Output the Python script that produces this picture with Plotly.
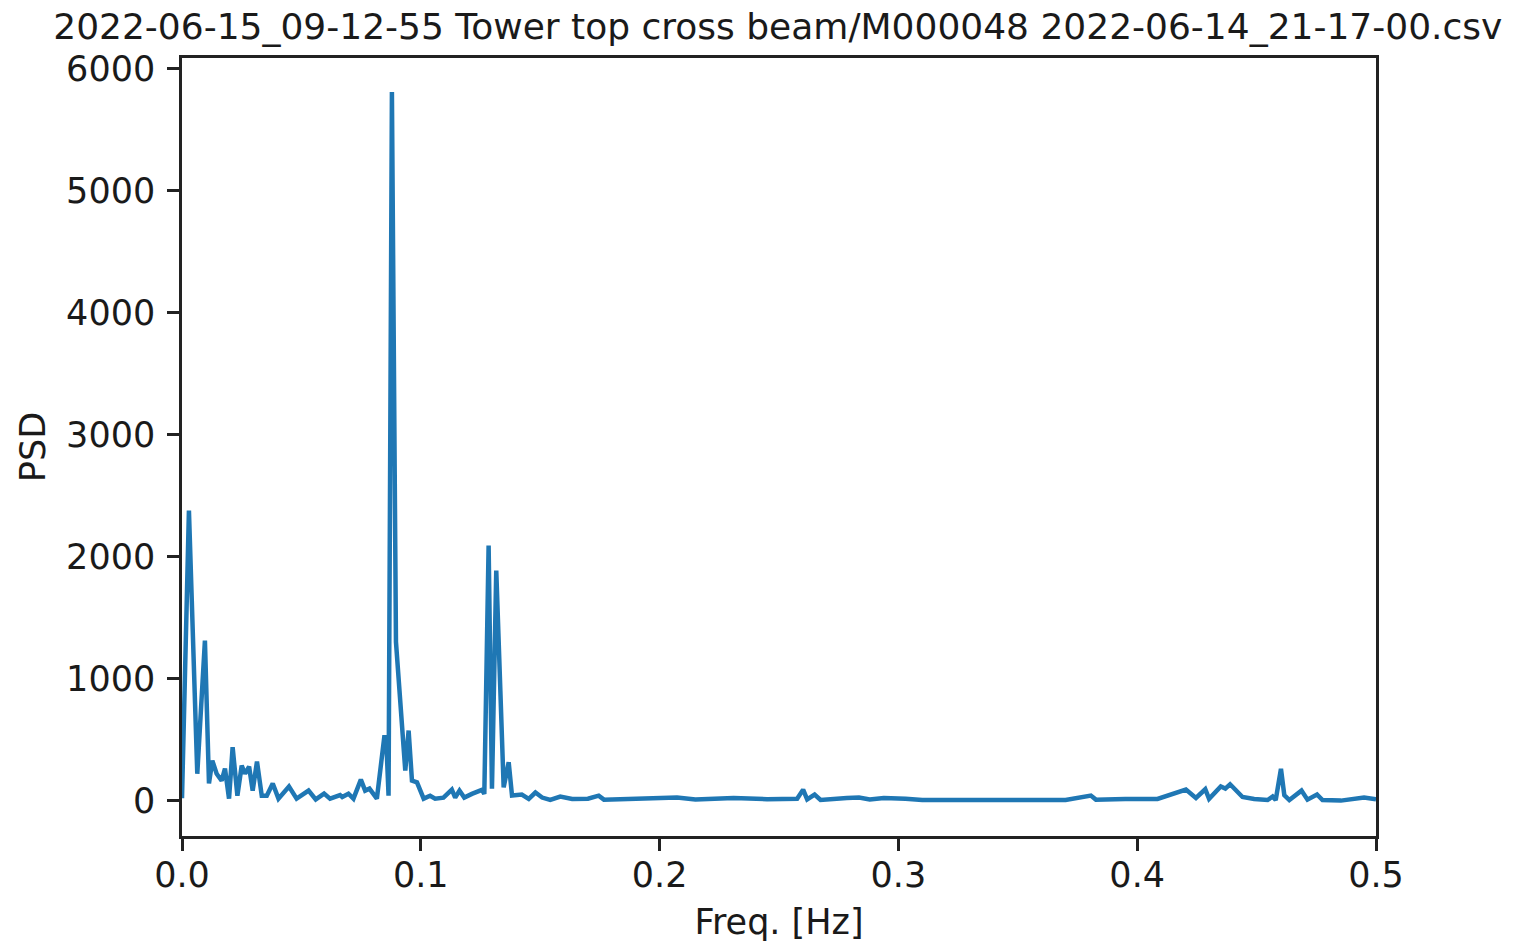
import plotly.graph_objects as go

title_text = "2022-06-15_09-12-55 Tower top cross beam/M000048 2022-06-14_21-17-00.csv"
x_label = "Freq. [Hz]"
y_label = "PSD"

freq = [0.0, 0.0029, 0.0064, 0.0096, 0.0113, 0.0127, 0.0145, 0.0166, 0.018, 0.0197,
        0.0212, 0.0232, 0.025, 0.0264, 0.0281, 0.0296, 0.0314, 0.0334, 0.0355, 0.038,
        0.0404, 0.0448, 0.048, 0.053, 0.056, 0.0595, 0.062, 0.0662, 0.0671, 0.0697,
        0.0718, 0.0749, 0.0767, 0.0785, 0.0816, 0.0847, 0.0855, 0.0865, 0.0879, 0.0896,
        0.0935, 0.0949, 0.0963, 0.0984, 0.1012, 0.1039, 0.106, 0.1095, 0.113, 0.1144,
        0.1162, 0.1182, 0.1214, 0.1256, 0.1266, 0.1284, 0.1298, 0.1316, 0.1347, 0.1368,
        0.1382, 0.1423, 0.1452, 0.148, 0.1508, 0.1542, 0.1584, 0.1634, 0.17, 0.1745,
        0.1767, 0.185, 0.195, 0.2073, 0.215, 0.231, 0.245, 0.2576, 0.2601, 0.2618,
        0.2649, 0.2674, 0.2784, 0.2835, 0.288, 0.2939, 0.303, 0.31, 0.33, 0.35,
        0.37, 0.3806, 0.3827, 0.395, 0.4085, 0.4204, 0.4246, 0.4285, 0.4301, 0.435,
        0.4369, 0.4389, 0.4405, 0.4441, 0.449, 0.4546, 0.4567, 0.458, 0.4602, 0.4616,
        0.4637, 0.4688, 0.4713, 0.4753, 0.4776, 0.4853, 0.495, 0.4986, 0.5]
psd = [20, 2377, 220, 1311, 140, 328, 220, 164, 262, 16,
       437, 40, 287, 220, 279, 82, 320, 40, 40, 140,
       16, 115, 16, 82, 10, 57, 16, 45, 30, 57,
       16, 172, 82, 98, 16, 519, 519, 40, 5806, 1300,
       246, 574, 164, 150, 16, 40, 16, 24, 90, 25,
       82, 25, 55, 88, 55, 2090, 98, 1885, 109, 314,
       41, 50, 14, 66, 25, 5, 33, 14, 15, 41,
       8, 12, 10, 25, 10, 22, 12, 16, 90, 10,
       50, 5, 22, 25, 10, 22, 16, 5, 5, 5,
       5, 41, 8, 14, 14, 90, 22, 93, 14, 115,
       98, 134, 100, 30, 14, 5, 33, 5, 260, 45,
       5, 82, 8, 50, 5, 0, 25, 8, 10]

x_ticks = [0.0, 0.1, 0.2, 0.3, 0.4, 0.5]
x_tick_text = ["0.0", "0.1", "0.2", "0.3", "0.4", "0.5"]
y_ticks = [0, 1000, 2000, 3000, 4000, 5000, 6000]

FONT = "DejaVu Sans"
TXT = "#1a1a1a"

fig = go.Figure()
fig.add_trace(go.Scatter(x=freq, y=psd, mode="lines",
                         line=dict(color="#1f77b4", width=4.5), showlegend=False))

axis_common = dict(showline=True, linecolor="#222222", linewidth=2.6, mirror=True,
                   ticks="outside", ticklen=12, tickwidth=2.6, tickcolor="#222222",
                   showgrid=False, zeroline=False, automargin=False,
                   tickfont=dict(family=FONT, size=35, color=TXT))

fig.update_layout(
    width=1515, height=945,
    paper_bgcolor="white", plot_bgcolor="white",
    margin=dict(l=182, r=139, t=58, b=109),
    title=dict(text=title_text, x=0.499, xref="paper", xanchor="center",
               y=1 - 26 / 945, yref="container", yanchor="middle",
               font=dict(family=FONT, size=36, color=TXT)),
    xaxis=dict(range=[0, 0.5], tickvals=x_ticks, ticktext=x_tick_text,
               ticklabelstandoff=-6,
               title=dict(text=x_label, font=dict(family=FONT, size=35, color=TXT), standoff=16),
               **axis_common),
    yaxis=dict(range=[-290, 6085], tickvals=y_ticks,
               ticklabelstandoff=5,
               title=dict(text=y_label, font=dict(family=FONT, size=35, color=TXT), standoff=10),
               **axis_common),
)

fig.write_html("out.html")
